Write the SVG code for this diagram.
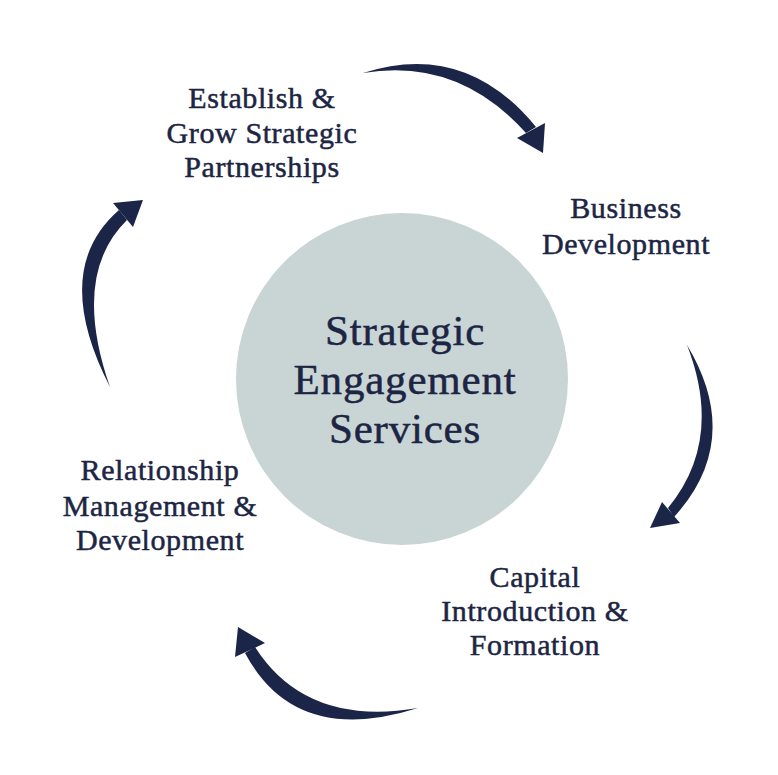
<svg xmlns="http://www.w3.org/2000/svg" width="778" height="775" viewBox="0 0 778 775">
<style>
.lbl{font-family:"Liberation Serif","DejaVu Serif",serif;font-size:30px;fill:#1c2544;stroke:#1c2544;stroke-width:0.5px;text-anchor:middle;letter-spacing:0.6px}
.ctr{font-family:"Liberation Serif","DejaVu Serif",serif;font-size:43px;fill:#1c2544;stroke:#1c2544;stroke-width:0.5px;text-anchor:middle;letter-spacing:0.8px}
.arr{fill:#1b2547}
</style>
<rect width="778" height="775" fill="#ffffff"/>
<g id="center">
<circle cx="402" cy="379" r="166" fill="#c9d4d4"/>
<text class="ctr" x="405" y="345">Strategic</text>
<text class="ctr" x="405" y="394">Engagement</text>
<text class="ctr" x="405" y="443">Services</text>
</g>
<g id="partnerships">
<text class="lbl" x="262" y="108">Establish &amp;</text>
<text class="lbl" x="262" y="143">Grow Strategic</text>
<text class="lbl" x="262" y="177">Partnerships</text>
</g>
<g id="business">
<text class="lbl" x="626" y="218">Business</text>
<text class="lbl" x="626" y="254">Development</text>
</g>
<g id="capital">
<text class="lbl" x="535" y="587">Capital</text>
<text class="lbl" x="535" y="621">Introduction &amp;</text>
<text class="lbl" x="535" y="655">Formation</text>
</g>
<g id="relationship">
<text class="lbl" x="160" y="480">Relationship</text>
<text class="lbl" x="160" y="516">Management &amp;</text>
<text class="lbl" x="160" y="550">Development</text>
</g>
<g id="connectors">
<path class="arr" d="M363,73 Q465,40 536,127 L526,133 Q458,57 363,73 Z"/>
<polygon class="arr" points="517,138 545,123 543,153"/>
<path class="arr" d="M687,345 Q744,440 674,517 L668,508 Q724,440 687,345 Z"/>
<polygon class="arr" points="662,502 680,523 650,528"/>
<path class="arr" d="M418,708 Q295,747 245,653 L255,647 Q306,727 418,708 Z"/>
<polygon class="arr" points="238,627 235,657 265,643"/>
<path class="arr" d="M110,387 Q50,270 119,210 L127,220 Q71,275 110,387 Z"/>
<polygon class="arr" points="143,200 113,203 133,227"/>
</g>
</svg>
